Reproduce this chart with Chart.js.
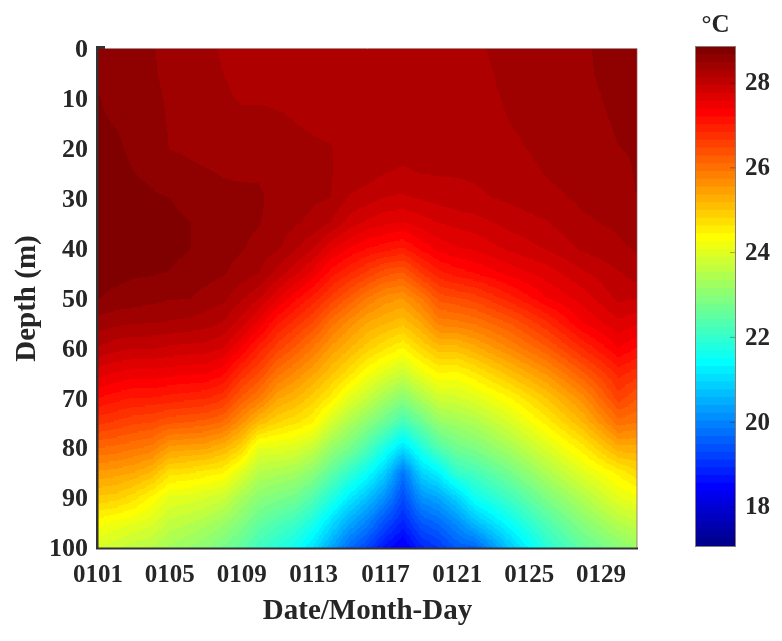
<!DOCTYPE html>
<html><head><meta charset="utf-8">
<style>html,body{margin:0;padding:0;background:#fff}
#wrap{position:relative;width:782px;height:641px}
canvas{position:absolute;left:0;top:0;filter:blur(0.5px)}</style>
<script src="https://cdn.jsdelivr.net/npm/chart.js@4"></script>
</head><body><div id="wrap"><canvas id="field" width="782" height="641"></canvas><canvas id="bar" width="782" height="641"></canvas></div>
<script>
const depths=[0,5,10,15,20,25,30,35,40,45,50,55,60,65,70,75,80,85,90,95,100];
const days=[1,2,3,4,5,6,7,8,9,10,11,12,13,14,15,16,17,18,19,20,21,22,24,26,28,30,31];
const xTickDays=[1,5,9,13,17,21,25,29];
const xTickLabels=["0101","0105","0109","0113","0117","0121","0125","0129"];
const yTicks=[0,10,20,30,40,50,60,70,80,90,100];
const barTicks=[18,20,22,24,26,28];
const tempMin=17.08, tempMax=28.85;
const d01=[28.55,28.6,28.68,28.7,28.72,28.75,28.75,28.75,28.75,28.72,28.68,28.4,28.1,27.65,27.2,26.7,26.1,25.5,24.95,24.35,23.9];
const d02=[28.55,28.58,28.6,28.66,28.7,28.72,28.75,28.75,28.75,28.72,28.62,28.35,28.0,27.55,27.1,26.6,26.05,25.45,24.9,24.2,23.75];
const d03=[28.52,28.55,28.58,28.6,28.63,28.67,28.72,28.75,28.75,28.69,28.58,28.32,27.95,27.5,27.0,26.5,25.95,25.35,24.7,24.1,23.6];
const d04=[28.49,28.5,28.52,28.55,28.6,28.63,28.69,28.74,28.74,28.68,28.55,28.3,27.95,27.5,27.0,26.45,25.85,25.15,24.4,23.95,23.5];
const d05=[28.45,28.45,28.46,28.47,28.48,28.55,28.67,28.72,28.72,28.66,28.5,28.28,27.9,27.45,26.95,26.3,25.5,24.7,24.05,23.65,23.3];
const d06=[28.42,28.42,28.43,28.44,28.46,28.52,28.6,28.68,28.68,28.6,28.5,28.25,27.87,27.42,26.9,26.25,25.45,24.65,24.0,23.55,23.15];
const d07=[28.33,28.35,28.38,28.4,28.43,28.5,28.57,28.6,28.6,28.55,28.42,28.2,27.85,27.4,26.85,26.2,25.4,24.55,23.9,23.4,23.0];
const d08=[28.28,28.3,28.33,28.38,28.42,28.47,28.53,28.56,28.56,28.5,28.35,28.1,27.75,27.25,26.7,26.05,25.2,24.45,23.75,23.2,22.75];
const d09=[28.22,28.24,28.28,28.36,28.4,28.46,28.52,28.54,28.5,28.4,28.15,27.85,27.38,26.8,26.25,25.6,24.85,24.0,23.35,22.9,22.5];
const d10=[28.2,28.22,28.28,28.36,28.42,28.47,28.5,28.49,28.42,28.3,27.95,27.5,26.95,26.45,25.9,25.1,24.05,23.5,23.0,22.55,22.1];
const d11=[28.2,28.22,28.26,28.34,28.4,28.43,28.44,28.42,28.33,28.05,27.6,27.05,26.55,26.0,25.4,24.8,24.05,23.4,22.85,22.3,21.85];
const d12=[28.2,28.22,28.25,28.3,28.36,28.38,28.38,28.32,28.15,27.8,27.25,26.75,26.25,25.7,25.2,24.65,23.95,23.3,22.7,22.1,21.55];
const d13=[28.2,28.2,28.22,28.27,28.33,28.35,28.33,28.25,27.95,27.5,26.95,26.45,25.9,25.4,24.9,24.44,23.7,23.0,22.35,21.7,21.1];
const d14=[28.2,28.2,28.2,28.24,28.31,28.31,28.3,28.1,27.6,27.1,26.6,26.0,25.5,25.05,24.55,23.85,23.15,22.5,21.8,21.05,20.4];
const d15=[28.2,28.2,28.2,28.2,28.22,28.22,28.1,27.85,27.38,26.85,26.25,25.65,25.2,24.7,24.05,23.4,22.8,22.0,21.2,20.45,19.7];
const d16=[28.2,28.2,28.2,28.2,28.2,28.2,28.02,27.7,27.2,26.6,25.9,25.35,24.9,24.3,23.7,23.0,22.3,21.5,20.7,19.95,19.25];
const d17=[28.2,28.2,28.2,28.2,28.2,28.12,27.92,27.6,27.1,26.35,25.65,25.2,24.65,24.0,23.3,22.6,21.7,20.85,20.1,19.35,18.65];
const d18=[28.2,28.2,28.2,28.2,28.2,28.08,27.9,27.55,27.0,26.25,25.55,25.05,24.44,23.75,23.0,22.15,21.05,19.8,19.3,18.85,18.3];
const d19=[28.2,28.2,28.2,28.2,28.2,28.12,27.95,27.65,27.25,26.65,25.9,25.35,24.8,24.15,23.4,22.6,21.75,20.9,20.15,19.45,18.85];
const d20=[28.2,28.2,28.2,28.2,28.2,28.13,28.0,27.75,27.45,26.95,26.35,25.8,25.1,24.44,23.8,23.1,22.35,21.3,20.4,19.7,19.1];
const d21=[28.2,28.2,28.2,28.2,28.2,28.13,28.05,27.8,27.55,27.1,26.45,25.85,25.1,24.4,23.85,23.25,22.7,22.0,20.9,20.1,19.5];
const d22=[28.25,28.23,28.22,28.2,28.2,28.14,28.08,27.85,27.6,27.2,26.55,25.95,25.3,24.6,24.0,23.4,22.85,22.2,21.55,20.65,19.6];
const d24=[28.4,28.36,28.33,28.3,28.26,28.2,28.15,28.0,27.8,27.45,26.95,26.3,25.75,25.1,24.44,23.9,23.35,22.75,22.15,21.5,20.8];
const d26=[28.42,28.42,28.4,28.38,28.35,28.31,28.25,28.1,27.95,27.65,27.38,26.8,26.25,25.6,25.0,24.5,23.95,23.4,22.85,22.3,21.85];
const d28=[28.46,28.46,28.44,28.42,28.4,28.37,28.33,28.27,28.15,27.9,27.65,27.38,26.85,26.25,25.65,25.15,24.55,24.0,23.45,22.95,22.5];
const d30=[28.55,28.53,28.52,28.5,28.48,28.42,28.38,28.33,28.27,28.1,27.98,27.7,27.38,26.9,26.55,26.0,25.3,24.5,24.05,23.5,22.95];
const d31=[28.55,28.55,28.53,28.52,28.5,28.5,28.48,28.36,28.32,28.2,27.95,27.6,27.2,26.75,26.3,25.9,25.3,24.75,24.2,23.65,23.2];
const columns=[d01,d02,d03,d04,d05,d06,d07,d08,d09,d10,d11,d12,d13,d14,d15,d16,d17,d18,d19,d20,d21,d22,d24,d26,d28,d30,d31];

function jet64(i){
  const r=i<24?0:i<40?(i-23)/16:i<56?1:1-(i-55)/16;
  const g=i<8?0:i<24?(i-7)/16:i<40?1:i<56?1-(i-39)/16:0;
  const b=i<8?(i+9)/16:i<24?1:i<40?1-(i-23)/16:0;
  return `rgb(${Math.round(r*255)},${Math.round(g*255)},${Math.round(b*255)})`;
}
const levels=[...Array(64).keys()];
const palette=levels.map(jet64);
function levelOf(t){return Math.max(0,Math.min(63,Math.floor((t-tempMin)/(tempMax-tempMin)*64)));}
const serif='"Liberation Serif","Times New Roman",serif';
const ink='#262626';

const contourPlugin={id:'contour',
  beforeDatasetsDraw(chart){
    const {ctx,scales:{x,y}}=chart;
    const sx=16,sy=20;
    ctx.save();
    for(let c=0;c<days.length-1;c++){
      const dA=days[c],dB=days[c+1],A=columns[c],B=columns[c+1];
      const n=sx*(dB-dA);
      for(let i=0;i<n;i++){
        const f=(i+.5)/n;
        const px0=Math.floor(x.getPixelForValue(dA+(dB-dA)*i/n));
        const px1=Math.ceil(x.getPixelForValue(dA+(dB-dA)*(i+1)/n));
        for(let r=0;r<depths.length-1;r++){
          const tA=A[r]*(1-f)+B[r]*f, tB=A[r+1]*(1-f)+B[r+1]*f;
          for(let j=0;j<sy;j++){
            const g=(j+.5)/sy;
            ctx.fillStyle=palette[levelOf(tA*(1-g)+tB*g)];
            const py0=Math.floor(y.getPixelForValue(depths[r]+(depths[r+1]-depths[r])*j/sy));
            const py1=Math.ceil(y.getPixelForValue(depths[r]+(depths[r+1]-depths[r])*(j+1)/sy));
            ctx.fillRect(px0,py0,px1-px0,py1-py0);
          }
        }
      }
    }
    ctx.restore();
  },
  afterDatasetsDraw(chart){
    const {ctx,chartArea:a}=chart;
    ctx.save();
    ctx.strokeStyle='rgba(130,90,90,.7)';ctx.lineWidth=1;
    ctx.beginPath();ctx.moveTo(a.left,a.top-.5);ctx.lineTo(a.right,a.top-.5);ctx.lineTo(a.right,a.bottom);ctx.stroke();
    ctx.fillStyle='#333';
    ctx.fillRect(a.left-2,a.top-2,2.5,a.bottom-a.top+3);
    ctx.fillRect(a.left-2,a.bottom-.5,a.right-a.left+3,2);
    ctx.fillRect(a.left-2,a.top-3,9,3);
    ctx.restore();
  }
};

const fieldPoints=[];
days.forEach((d,c)=>depths.forEach((m,r)=>fieldPoints.push({x:d,y:m,v:columns[c][r]})));

new Chart(document.getElementById('field'),{
  type:'scatter',
  data:{datasets:[{label:'Temperature',data:fieldPoints,pointRadius:0,showLine:false}]},
  plugins:[contourPlugin],
  options:{responsive:false,animation:false,events:[],
    layout:{padding:{left:0,right:145,top:49,bottom:0}},
    plugins:{legend:{display:false},tooltip:{enabled:false}},
    scales:{
      x:{type:'linear',min:1,max:31,grid:{display:false},border:{display:false},
        afterBuildTicks(s){s.ticks=xTickDays.map(v=>({value:v}));},
        afterFit(s){s.height=93;},
        ticks:{autoSkip:false,maxRotation:0,padding:5,color:ink,font:{family:serif,weight:'bold',size:25},
          callback(v){return xTickLabels[xTickDays.indexOf(v)];}},
        title:{display:true,text:'Date/Month-Day',color:ink,font:{family:serif,weight:'bold',size:29},padding:{top:0,bottom:12}}
      },
      y:{type:'linear',reverse:true,min:0,max:100,grid:{display:false},border:{display:false},
        afterBuildTicks(s){s.ticks=yTicks.map(v=>({value:v}));},
        afterFit(s){s.width=98;},
        ticks:{autoSkip:false,padding:2,labelOffset:1.5,color:ink,font:{family:serif,weight:'bold',size:26}},
        title:{display:true,text:'Depth (m)',color:ink,font:{family:serif,weight:'bold',size:29},padding:{top:10,bottom:0}}
      }
    }
  }
});

const step=(tempMax-tempMin)/64;
const barFrame={id:'barFrame',afterDatasetsDraw(chart){
  const {ctx,chartArea:a,scales:{y}}=chart;
  ctx.save();
  ctx.strokeStyle='rgba(110,90,80,.8)';ctx.lineWidth=1;
  ctx.strokeRect(a.left-.5,a.top-.5,a.right-a.left+1,a.bottom-a.top+1);
  ctx.strokeStyle='rgba(0,0,0,.3)';
  ctx.beginPath();
  barTicks.forEach(v=>{const p=y.getPixelForValue(v);ctx.moveTo(a.right-5,p);ctx.lineTo(a.right,p);});
  ctx.stroke();
  ctx.restore();
}};
new Chart(document.getElementById('bar'),{
  type:'bar',
  data:{labels:['T'],datasets:levels.map(i=>({data:[[tempMin+i*step,tempMin+(i+1)*step+.01]],backgroundColor:palette[i],borderWidth:0,barPercentage:1,categoryPercentage:1,grouped:false}))},
  plugins:[barFrame],
  options:{responsive:false,animation:false,events:[],
    layout:{padding:{left:696,right:0,top:0,bottom:95}},
    plugins:{legend:{display:false},tooltip:{enabled:false}},
    scales:{
      x:{position:'top',grid:{display:false},border:{display:false},ticks:{display:false},
        afterFit(s){s.height=47;},
        title:{display:true,text:'°C',color:ink,font:{family:serif,weight:'bold',size:25},padding:{top:11,bottom:0}}},
      y:{position:'right',min:tempMin,max:tempMax,grid:{display:false},border:{display:false},
        afterBuildTicks(s){s.ticks=barTicks.map(v=>({value:v}));},
        afterFit(s){s.width=47;},
        ticks:{autoSkip:false,padding:2,labelOffset:1,color:ink,font:{family:serif,weight:'bold',size:25}}}
    }
  }
});
</script></body></html>
